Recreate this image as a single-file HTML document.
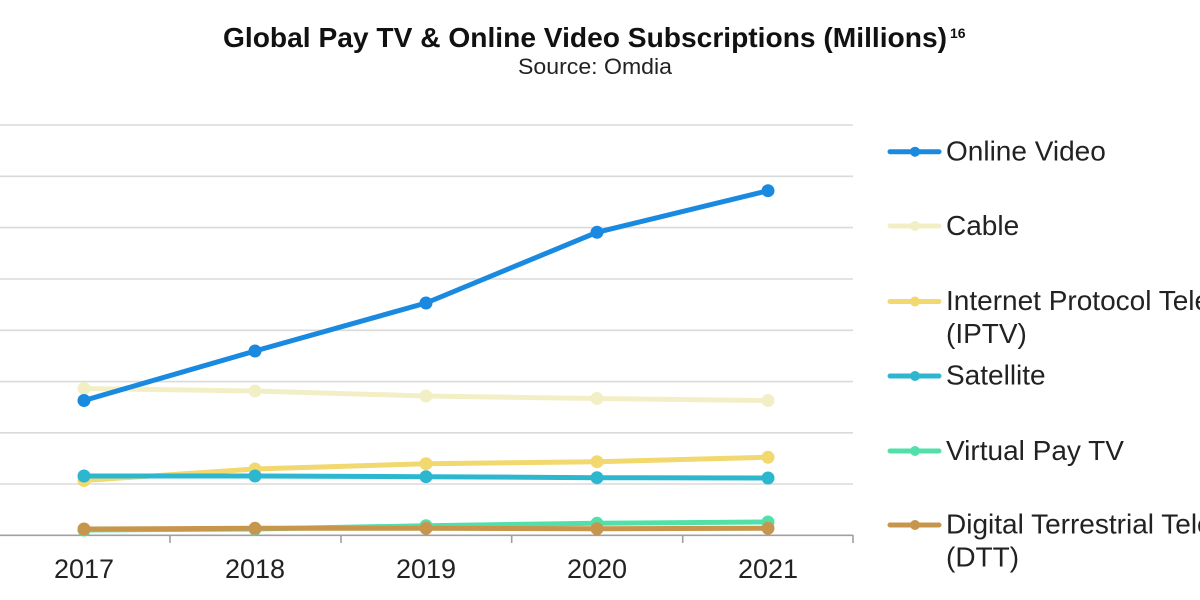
<!DOCTYPE html>
<html>
<head>
<meta charset="utf-8">
<style>
html,body{margin:0;padding:0;background:#fff;}
body{width:1200px;height:600px;overflow:hidden;}
svg{display:block;}
text{font-family:"Liberation Sans",Arial,sans-serif;}
</style>
</head>
<body>
<svg width="1200" height="600" viewBox="0 0 1200 600" xmlns="http://www.w3.org/2000/svg">
  <rect width="1200" height="600" fill="#fff"/>
  <!-- Title -->
  <text x="223" y="47" font-size="27.5" font-weight="bold" fill="#111" textLength="724" lengthAdjust="spacingAndGlyphs">Global Pay TV &amp; Online Video Subscriptions (Millions)</text>
  <text x="950" y="38" font-size="14" font-weight="bold" fill="#111">16</text>
  <text x="518" y="74" font-size="22" fill="#222" textLength="154" lengthAdjust="spacingAndGlyphs">Source: Omdia</text>

  <!-- Gridlines -->
  <g stroke="#dadada" stroke-width="1.6">
    <line x1="0" y1="125" x2="853" y2="125"/>
    <line x1="0" y1="176.3" x2="853" y2="176.3"/>
    <line x1="0" y1="227.6" x2="853" y2="227.6"/>
    <line x1="0" y1="279" x2="853" y2="279"/>
    <line x1="0" y1="330.3" x2="853" y2="330.3"/>
    <line x1="0" y1="381.6" x2="853" y2="381.6"/>
    <line x1="0" y1="432.8" x2="853" y2="432.8"/>
    <line x1="0" y1="484" x2="853" y2="484"/>
  </g>
  <!-- Axis -->
  <g stroke="#a0a0a0" stroke-width="1.6">
    <line x1="0" y1="535.3" x2="853" y2="535.3"/>
    <line x1="170" y1="535" x2="170" y2="543"/>
    <line x1="341" y1="535" x2="341" y2="543"/>
    <line x1="511.7" y1="535" x2="511.7" y2="543"/>
    <line x1="682.7" y1="535" x2="682.7" y2="543"/>
    <line x1="853" y1="535" x2="853" y2="543"/>
  </g>
  <g font-size="27" fill="#222" text-anchor="middle">
    <text x="84" y="578">2017</text>
    <text x="255" y="578">2018</text>
    <text x="426" y="578">2019</text>
    <text x="597" y="578">2020</text>
    <text x="768" y="578">2021</text>
  </g>

  <!-- Series -->
  <g stroke-width="5" fill="none" stroke-linejoin="round" stroke-linecap="round">
    <polyline stroke="#f2efc6" points="84,388.5 255,391 426,396 597,398.5 768,400.5"/>
    <polyline stroke="#1a8ae0" points="84,400.5 255,351 426,303 597,232.3 768,190.7"/>
    <polyline stroke="#f1d86f" points="84,480.5 255,469 426,463.7 597,461.7 768,457.3"/>
    <polyline stroke="#2db7cf" points="84,476 255,476 426,476.7 597,477.7 768,478"/>
    <polyline stroke="#52e0aa" points="84,530 255,529 426,525.7 597,523.3 768,522"/>
    <polyline stroke="#c8954c" points="84,529 255,528.3 426,528.3 597,528.7 768,528.3"/>
  </g>
  <g>
    <g fill="#f2efc6">
      <circle cx="84" cy="388.5" r="6.5"/><circle cx="255" cy="391" r="6.5"/><circle cx="426" cy="396" r="6.5"/><circle cx="597" cy="398.5" r="6.5"/><circle cx="768" cy="400.5" r="6.5"/>
    </g>
    <g fill="#1a8ae0">
      <circle cx="84" cy="400.5" r="6.5"/><circle cx="255" cy="351" r="6.5"/><circle cx="426" cy="303" r="6.5"/><circle cx="597" cy="232.3" r="6.5"/><circle cx="768" cy="190.7" r="6.5"/>
    </g>
    <g fill="#f1d86f">
      <circle cx="84" cy="480.5" r="6.5"/><circle cx="255" cy="469" r="6.5"/><circle cx="426" cy="463.7" r="6.5"/><circle cx="597" cy="461.7" r="6.5"/><circle cx="768" cy="457.3" r="6.5"/>
    </g>
    <g fill="#2db7cf">
      <circle cx="84" cy="476" r="6.5"/><circle cx="255" cy="476" r="6.5"/><circle cx="426" cy="476.7" r="6.5"/><circle cx="597" cy="477.7" r="6.5"/><circle cx="768" cy="478" r="6.5"/>
    </g>
    <g fill="#52e0aa">
      <circle cx="84" cy="530" r="6.5"/><circle cx="255" cy="529" r="6.5"/><circle cx="426" cy="525.7" r="6.5"/><circle cx="597" cy="523.3" r="6.5"/><circle cx="768" cy="522" r="6.5"/>
    </g>
    <g fill="#c8954c">
      <circle cx="84" cy="529" r="6.5"/><circle cx="255" cy="528.3" r="6.5"/><circle cx="426" cy="528.3" r="6.5"/><circle cx="597" cy="528.7" r="6.5"/><circle cx="768" cy="528.3" r="6.5"/>
    </g>
  </g>

  <!-- Legend -->
  <g stroke-width="5" stroke-linecap="round">
    <line x1="890" y1="151.7" x2="939" y2="151.7" stroke="#1a8ae0"/>
    <line x1="890" y1="226" x2="939" y2="226" stroke="#f2efc6"/>
    <line x1="890" y1="301.5" x2="939" y2="301.5" stroke="#f1d86f"/>
    <line x1="890" y1="376" x2="939" y2="376" stroke="#2db7cf"/>
    <line x1="890" y1="451" x2="939" y2="451" stroke="#52e0aa"/>
    <line x1="890" y1="525" x2="939" y2="525" stroke="#c8954c"/>
  </g>
  <circle cx="915" cy="151.7" r="5" fill="#1a8ae0"/>
  <circle cx="915" cy="226" r="5" fill="#f2efc6"/>
  <circle cx="915" cy="301.5" r="5" fill="#f1d86f"/>
  <circle cx="915" cy="376" r="5" fill="#2db7cf"/>
  <circle cx="915" cy="451" r="5" fill="#52e0aa"/>
  <circle cx="915" cy="525" r="5" fill="#c8954c"/>
  <g font-size="28" fill="#222">
    <text x="946" y="160.7">Online Video</text>
    <text x="946" y="235">Cable</text>
    <text x="946" y="310">Internet Protocol Television</text>
    <text x="946" y="343">(IPTV)</text>
    <text x="946" y="384.5">Satellite</text>
    <text x="946" y="460">Virtual Pay TV</text>
    <text x="946" y="533.5">Digital Terrestrial Television</text>
    <text x="946" y="566.5">(DTT)</text>
  </g>
</svg>
</body>
</html>
